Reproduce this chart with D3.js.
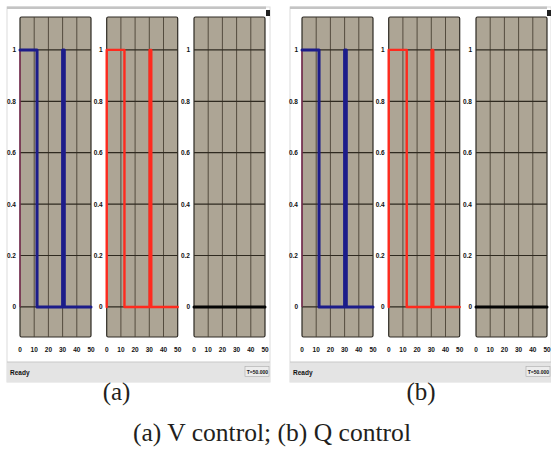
<!DOCTYPE html>
<html>
<head>
<meta charset="utf-8">
<script src="https://cdn.jsdelivr.net/npm/d3@7"></script>
<style>
  html, body { margin: 0; padding: 0; background: #fff; }
  svg { display: block; }
</style>
</head>
<body>
<svg id="fig"></svg>
<script>
// ---- data ----
const xTicks = [0, 10, 20, 30, 40, 50];
const yTicks = [0, 0.2, 0.4, 0.6, 0.8, 1];
const yTickLabels = ["0", "0.2", "0.4", "0.6", "0.8", "1"];

// (a) V control
const blueA = [[0, 1], [12, 1], [12, 0], [30, 0], [30, 1], [31.2, 1], [31.2, 0], [50, 0]];
const redA  = [[0, 0], [0, 1], [12.5, 1], [12.5, 0], [30.2, 0], [30.2, 1], [31.4, 1], [31.4, 0], [50, 0]];
const blackA = [[0, 0], [50, 0]];
// (b) Q control
const blueB = [[0, 1], [12, 1], [12, 0], [30, 0], [30, 1], [31.2, 1], [31.2, 0], [50, 0]];
const redB  = [[0, 0], [0, 1], [12.7, 1], [12.7, 0], [30.2, 0], [30.2, 1], [31.4, 1], [31.4, 0], [50, 0]];
const blackB = [[0, 0], [50, 0]];
const leadLine = [[0, 0], [0, 1]];

const subLabels = ["(a)", "(b)"];
const caption = "(a) V control; (b) Q control";

// ---- layout ----
const W = 551, H = 452;
const svg = d3.select("#fig").attr("width", W).attr("height", H);
svg.append("rect").attr("width", W).attr("height", H).attr("fill", "#fff");

const panelLefts = [20, 106.7, 194];
const panelW = 71;
const shiftB = 282;

const y = d3.scaleLinear([-0.117, 1.128], [337, 17]);

const tickFont = "'Liberation Sans Narrow', 'Arial Narrow', 'Liberation Sans', sans-serif";

function drawWindow(ox, frameX0, frameX1, series) {
  const g = svg.append("g");
  // window frame
  g.append("rect").attr("x", frameX0).attr("y", 7).attr("width", frameX1 - frameX0).attr("height", 375)
    .attr("fill", "#fff").attr("stroke", "#dcdcdc").attr("stroke-width", 1);
  g.append("rect").attr("x", frameX0).attr("y", 6.5).attr("width", frameX1 - frameX0 - 4).attr("height", 2.5)
    .attr("fill", "#c4c4c4");
  g.append("rect").attr("x", frameX1 - 4).attr("y", 10).attr("width", 4).attr("height", 6).attr("fill", "#222");

  // status bar
  g.append("rect").attr("x", frameX0).attr("y", 362).attr("width", frameX1 - frameX0).attr("height", 20)
    .attr("fill", "#e4e4e4");
  g.append("line").attr("x1", frameX0).attr("x2", frameX1).attr("y1", 362).attr("y2", 362)
    .attr("stroke", "#c8c8c8");
  g.append("text").attr("x", frameX0 + 3).attr("y", 374.5).text("Ready")
    .attr("font-family", tickFont).attr("font-weight", "bold").attr("font-size", 6.5).attr("fill", "#111");
  g.append("rect").attr("x", frameX1 - 25).attr("y", 366.5).attr("width", 24).attr("height", 10)
    .attr("fill", "#ececec").attr("stroke", "#aaa").attr("stroke-width", 0.6);
  g.append("text").attr("x", frameX1 - 2).attr("y", 374).attr("text-anchor", "end").text("T=50.000")
    .attr("font-family", tickFont).attr("font-weight", "bold").attr("font-size", 5).attr("fill", "#111");

  panelLefts.forEach((pl, i) => {
    const left = pl + ox;
    const x = d3.scaleLinear([0, 50], [left, left + panelW]);
    const p = g.append("g");

    p.append("rect").attr("x", x(0)).attr("y", y(1.128)).attr("width", panelW)
      .attr("height", y(-0.117) - y(1.128)).attr("fill", "#ada595")
      .attr("stroke", "#2e2a24").attr("stroke-width", 1.2).attr("rx", 1.5);

    // grid
    p.selectAll("line.v").data(xTicks.slice(1, -1)).join("line")
      .attr("x1", d => x(d)).attr("x2", d => x(d))
      .attr("y1", y(1.128)).attr("y2", y(-0.117))
      .attr("stroke", "#4a4234").attr("stroke-width", 0.9);
    p.selectAll("line.h").data(yTicks).join("line")
      .attr("x1", x(0)).attr("x2", x(50))
      .attr("y1", d => y(d)).attr("y2", d => y(d))
      .attr("stroke", "#2f2a20").attr("stroke-width", 1.2);

    // y labels
    p.selectAll("text.yl").data(yTicks).join("text")
      .attr("x", x(0) - 4).attr("y", d => y(d) + 2.5)
      .attr("text-anchor", "end").text((d, k) => yTickLabels[k])
      .attr("font-family", tickFont).attr("font-weight", "bold").attr("font-size", 6.5).attr("fill", "#111");
    // x labels
    p.selectAll("text.xl").data(xTicks).join("text")
      .attr("x", d => x(d)).attr("y", 352)
      .attr("text-anchor", "middle").text(d => d)
      .attr("font-family", tickFont).attr("font-weight", "bold").attr("font-size", 6.5).attr("fill", "#111");

    const line = d3.line().x(d => x(d[0])).y(d => y(d[1]));
    const s = series[i];
    if (s.lead) {
      p.append("path").attr("d", line(s.lead)).attr("fill", "none")
        .attr("stroke", "#8a2a5a").attr("stroke-width", 1.2);
    }
    p.append("path").attr("d", line(s.data)).attr("fill", "none")
      .attr("stroke", s.color).attr("stroke-width", s.w)
      .attr("stroke-linejoin", "round").attr("stroke-linecap", "round");
  });
}

drawWindow(0, 7, 270, [
  { data: blueA, color: "#1c1c8a", w: 3, lead: leadLine },
  { data: redA, color: "#ff2a1e", w: 2.4 },
  { data: blackA, color: "#050505", w: 3 }
]);
drawWindow(shiftB, 290, 551, [
  { data: blueB, color: "#1c1c8a", w: 3, lead: leadLine },
  { data: redB, color: "#ff2a1e", w: 2.4 },
  { data: blackB, color: "#050505", w: 3 }
]);

// sub labels and caption
const serif = "'Liberation Serif', 'DejaVu Serif', serif";
svg.selectAll("text.sub").data(subLabels).join("text")
  .attr("x", (d, i) => [116.5, 421][i]).attr("y", 400)
  .attr("text-anchor", "middle").text(d => d)
  .attr("font-family", serif).attr("font-size", 25).attr("fill", "#231f20");
svg.append("text").attr("x", 272).attr("y", 441).attr("text-anchor", "middle")
  .text(caption).attr("font-family", serif).attr("font-size", 25).attr("fill", "#231f20")
  .attr("textLength", 278).attr("lengthAdjust", "spacingAndGlyphs");
</script>
</body>
</html>
